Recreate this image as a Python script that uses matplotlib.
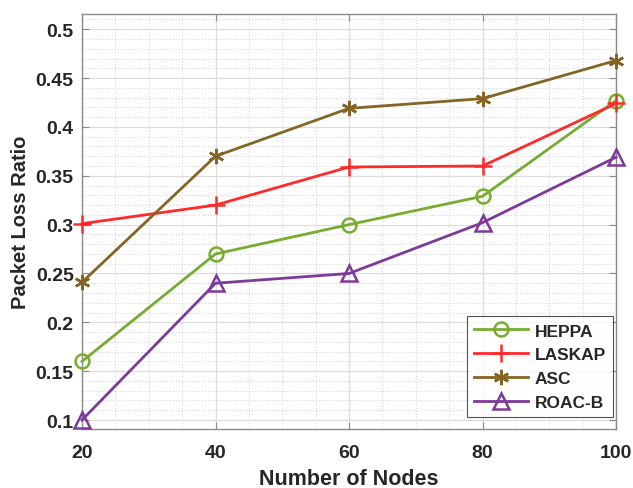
import matplotlib
matplotlib.use("Agg")
import matplotlib.pyplot as plt
from matplotlib.ticker import MultipleLocator

nodes = [20, 40, 60, 80, 100]
heppa = [0.160, 0.270, 0.300, 0.329, 0.427]
laskap = [0.301, 0.320, 0.359, 0.360, 0.424]
asc = [0.241, 0.370, 0.419, 0.429, 0.468]
roacb = [0.100, 0.240, 0.250, 0.302, 0.369]

plt.rcParams['font.family'] = ['Liberation Sans', 'DejaVu Sans']
plt.rcParams['font.weight'] = 'bold'

fig = plt.figure(figsize=(6.33, 4.89), dpi=100)
ax = fig.add_axes([82/633, 1-430/489, (616-82)/633, (430-15)/489])

lw = 2.0
kw = dict(lw=lw, mew=1.8, clip_on=False, zorder=3)
ax.plot(nodes, heppa, color='#77AC30', marker='o', ms=10, mfc='none', label='HEPPA', **kw)
ax.plot(nodes, laskap, color='#FF2A2A', marker='+', ms=13, label='LASKAP', **kw)
ax.plot(nodes, asc, color='#846523', marker=(6, 2, 0), ms=11, label='ASC', **kw)
ax.plot(nodes, roacb, color='#7E3A9A', marker='^', ms=11, mfc='none', label='ROAC-B', **kw)

ax.set_xlim(20, 100)
ax.set_ylim(0.0908, 0.5156)
ax.xaxis.set_major_locator(MultipleLocator(20))
ax.xaxis.set_minor_locator(MultipleLocator(5))
ax.yaxis.set_minor_locator(MultipleLocator(0.01))
ax.set_yticks([0.1, 0.15, 0.2, 0.25, 0.3, 0.35, 0.4, 0.45, 0.5])
ax.set_yticklabels(['0.1', '0.15', '0.2', '0.25', '0.3', '0.35', '0.4', '0.45', '0.5'])

ax.grid(which='major', color='#DCDCDC', lw=0.9, ls='-')
ax.grid(which='minor', color='#D0D0D0', lw=0.7, ls=(0, (1, 2)))
ax.set_axisbelow(True)

for s in ax.spines.values():
    s.set_color('#8A8A8A')
    s.set_linewidth(1.0)
ax.tick_params(which='major', direction='in', length=5, top=True, right=True,
               color='#8A8A8A', labelsize=14, labelcolor='#262626')
ax.tick_params(axis='x', which='major', pad=11)
ax.tick_params(axis='y', which='major', pad=6)
ax.tick_params(which='minor', length=0)
for t in ax.get_xticklabels() + ax.get_yticklabels():
    t.set_fontweight('bold')

ax.set_xlabel('Number of Nodes', fontsize=15.5, fontweight='bold', color='#262626', labelpad=5)
ax.set_ylabel('Packet Loss Ratio', fontsize=14.5, fontweight='bold', color='#262626', labelpad=4)

leg = ax.legend(loc='lower right', bbox_to_anchor=(0.9944, 0.029), prop={'weight': 'bold', 'size': 12.5},
                frameon=True, fancybox=False, edgecolor='#262626', handlelength=3.1,
                borderpad=0.4, labelspacing=0.5, handletextpad=0.4, borderaxespad=0.0)
leg.get_frame().set_linewidth(0.8)
for t in leg.get_texts():
    t.set_color('#262626')

fig.savefig('out.png', dpi=100, facecolor='white')
